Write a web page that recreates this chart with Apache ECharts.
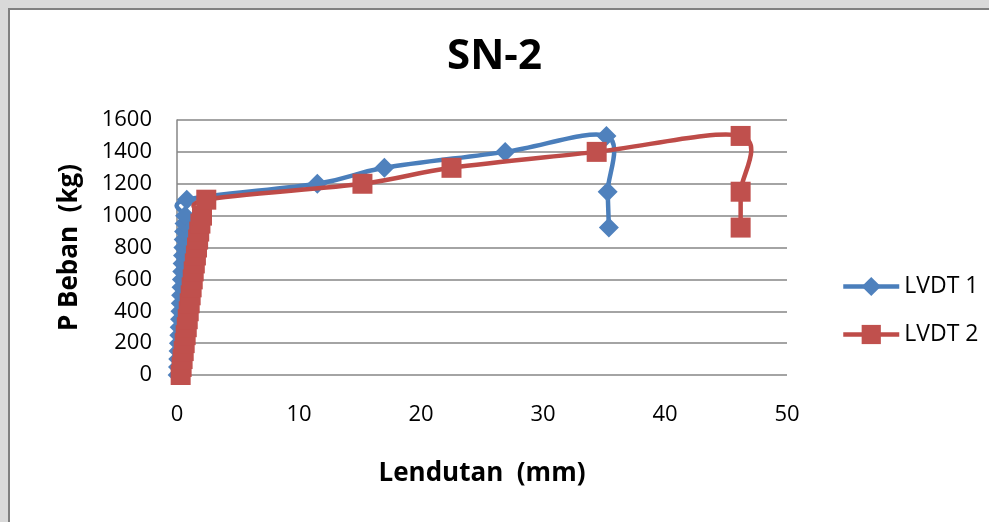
<!DOCTYPE html>
<html>
<head>
<meta charset="utf-8">
<script src="https://cdn.jsdelivr.net/npm/echarts@6/dist/echarts.min.js"></script>
<style>
  html, body { margin: 0; padding: 0; background: #d9d9d9; }
  #chart { width: 989px; height: 522px; }
</style>
</head>
<body>
<div id="chart"></div>
<script>
// Load (kg) vs deflection (mm) readings for specimen SN-2
const loadLvdt1 = [0, 50, 100, 150, 200, 250, 300, 350, 400, 450, 500, 550, 600, 650, 700, 750, 800, 850, 900, 950, 1000, 1100, 1200, 1300, 1400, 1500, 1150, 925];
const deflLvdt1 = [0.05, 0.08, 0.1, 0.13, 0.16, 0.19, 0.22, 0.25, 0.28, 0.31, 0.34, 0.37, 0.4, 0.43, 0.46, 0.49, 0.52, 0.55, 0.58, 0.62, 0.66, 0.8, 11.5, 17.0, 26.9, 35.2, 35.3, 35.4];

const loadLvdt2 = [0, 50, 100, 150, 200, 250, 300, 350, 400, 450, 500, 550, 600, 650, 700, 750, 800, 850, 900, 950, 1000, 1100, 1200, 1300, 1400, 1500, 1150, 925];
const deflLvdt2 = [0.3, 0.38, 0.46, 0.55, 0.63, 0.71, 0.8, 0.88, 0.96, 1.04, 1.12, 1.2, 1.29, 1.37, 1.46, 1.55, 1.64, 1.73, 1.82, 1.92, 2.05, 2.4, 15.2, 22.5, 34.4, 46.2, 46.2, 46.2];

const seriesNames = ['LVDT 1', 'LVDT 2'];
const xTicks = { min: 0, max: 50, step: 10 };
const yTicks = { min: 0, max: 1600, step: 200 };

const BLUE_LINE = '#4a7ebb', BLUE_MARK = '#4f81bd';
const RED_LINE = '#be4b48', RED_MARK = '#c0504d';
const LINE_W = 4.5;

const pairs = (xs, ys) => xs.map((x, i) => [x, ys[i]]);
const data1 = pairs(deflLvdt1, loadLvdt1);
const data2 = pairs(deflLvdt2, loadLvdt2);

// Smoothed connecting line (cardinal spline through the data points, projected
// with the chart's own axes), drawn once for the whole series.
function smoothCurve(points, color) {
  return function (params, api) {
    if (params.dataIndex !== 0) return null;
    const p = points.map(pt => api.coord(pt));
    const n = p.length;
    let d = 'M' + p[0][0] + ' ' + p[0][1];
    for (let i = 0; i < n - 1; i++) {
      const a = p[Math.max(i - 1, 0)], b = p[i], c = p[i + 1], e = p[Math.min(i + 2, n - 1)];
      const c1x = b[0] + (c[0] - a[0]) / 6, c1y = b[1] + (c[1] - a[1]) / 6;
      const c2x = c[0] - (e[0] - b[0]) / 6, c2y = c[1] - (e[1] - b[1]) / 6;
      d += ' C' + c1x + ' ' + c1y + ' ' + c2x + ' ' + c2y + ' ' + c[0] + ' ' + c[1];
    }
    return {
      type: 'path',
      shape: { pathData: d },
      style: { stroke: color, lineWidth: LINE_W, fill: null, lineJoin: 'round', lineCap: 'round' }
    };
  };
}

const FONT = 'Open Sans';
const chart = echarts.init(document.getElementById('chart'), null, { renderer: 'canvas' });

chart.setOption({
  animation: false,
  backgroundColor: '#d9d9d9',
  graphic: [{
    type: 'rect',
    z: -10,
    shape: { x: 9, y: 9, width: 1000, height: 540 },
    style: { fill: '#ffffff', stroke: '#7f7f7f', lineWidth: 2 }
  }],
  title: {
    text: 'SN-2',
    left: 'center',
    top: 31,
    textStyle: { fontFamily: FONT, fontSize: 42, fontWeight: 'bold', color: '#000' }
  },
  legend: {
    orient: 'vertical',
    left: 836,
    top: 270,
    itemGap: 25,
    itemWidth: 56,
    itemHeight: 24,
    textStyle: { fontFamily: FONT, fontSize: 23, color: '#000' },
    data: [
      { name: seriesNames[0], lineStyle: { color: BLUE_LINE, width: LINE_W, opacity: 1 } },
      { name: seriesNames[1], lineStyle: { color: RED_LINE, width: LINE_W, opacity: 1 } }
    ]
  },
  grid: { left: 177, right: 202, top: 120, bottom: 147 },
  xAxis: {
    type: 'value',
    min: xTicks.min, max: xTicks.max, interval: xTicks.step,
    name: 'Lendutan  (mm)',
    nameLocation: 'middle',
    nameGap: 86,
    nameTextStyle: { fontFamily: FONT, fontSize: 26, fontWeight: 'bold', color: '#000' },
    axisLine: { show: false },
    axisTick: { show: false },
    axisLabel: { margin: 29, fontFamily: FONT, fontSize: 22, color: '#000' },
    splitLine: { show: false }
  },
  yAxis: {
    type: 'value',
    min: yTicks.min, max: yTicks.max, interval: yTicks.step,
    name: 'P Beban  (kg)',
    nameLocation: 'middle',
    nameGap: 94,
    nameTextStyle: { fontFamily: FONT, fontSize: 26, fontWeight: 'bold', color: '#000' },
    axisLine: { show: true, lineStyle: { color: '#868686', width: 1.5 } },
    axisTick: { show: false },
    axisLabel: { margin: 25, fontFamily: FONT, fontSize: 22, color: '#000', formatter: v => String(v) },
    splitLine: { show: true, lineStyle: { color: '#868686', width: 1.5 } }
  },
  series: [
    {
      type: 'custom',
      silent: true,
      z: 2,
      data: data1,
      encode: { x: 0, y: 1 },
      renderItem: smoothCurve(data1, BLUE_LINE)
    },
    {
      name: seriesNames[0],
      type: 'line',
      z: 3,
      data: data1,
      symbol: 'diamond',
      symbolSize: 20,
      lineStyle: { color: BLUE_LINE, width: LINE_W, opacity: 0 },
      itemStyle: { color: BLUE_MARK }
    },
    {
      type: 'custom',
      silent: true,
      z: 4,
      data: data2,
      encode: { x: 0, y: 1 },
      renderItem: smoothCurve(data2, RED_LINE)
    },
    {
      name: seriesNames[1],
      type: 'line',
      z: 5,
      data: data2,
      symbol: 'rect',
      symbolSize: 20,
      lineStyle: { color: RED_LINE, width: LINE_W, opacity: 0 },
      itemStyle: { color: RED_MARK }
    }
  ]
});
</script>
</body>
</html>
